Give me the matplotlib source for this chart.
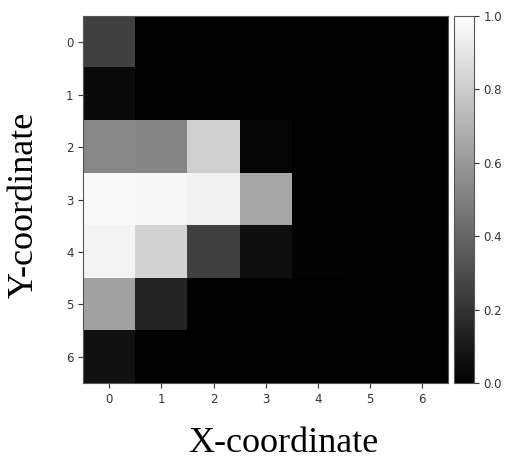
import matplotlib
matplotlib.use("Agg")
from matplotlib import pyplot as plt
import numpy as np

# grid values, row = Y-coordinate, column = X-coordinate
row_0 = [0.25, 0.0, 0.0, 0.0, 0.0, 0.0, 0.0]
row_1 = [0.04, 0.0, 0.0, 0.0, 0.0, 0.0, 0.0]
row_2 = [0.53, 0.52, 0.81, 0.02, 0.0, 0.0, 0.0]
row_3 = [0.97, 0.965, 0.945, 0.65, 0.005, 0.0, 0.0]
row_4 = [0.95, 0.83, 0.25, 0.055, 0.01, 0.0, 0.0]
row_5 = [0.635, 0.14, 0.005, 0.0, 0.0, 0.0, 0.0]
row_6 = [0.07, 0.0, 0.0, 0.0, 0.0, 0.0, 0.0]
x_ticks = [0, 1, 2, 3, 4, 5, 6]
y_ticks = [0, 1, 2, 3, 4, 5, 6]

grid = np.array([row_0, row_1, row_2, row_3, row_4, row_5, row_6])

fig = plt.figure(figsize=(5.23, 4.70), dpi=100)
ax = fig.add_axes([0.159, 0.185, 0.698, 0.781])
cax = fig.add_axes([0.868, 0.185, 0.038, 0.781])

im = ax.imshow(grid, cmap="gray", vmin=0.0, vmax=1.0, aspect="auto",
               interpolation="nearest")
ax.set_xticks(x_ticks)
ax.set_yticks(y_ticks)
ax.tick_params(labelsize=8.5, labelcolor="#333333", color="#333333", length=3.5)
for s in ax.spines.values():
    s.set_color("#555555")

cb = fig.colorbar(im, cax=cax)
cb.set_ticks([0.0, 0.2, 0.4, 0.6, 0.8, 1.0])
cb.ax.tick_params(labelsize=8.5, labelcolor="#333333", color="#333333", length=3.5)
cb.outline.set_edgecolor("#555555")

fig.text(0.542, 0.038, "X-coordinate", ha="center", va="baseline",
         fontsize=26, family="Liberation Serif")
fig.text(0.063, 0.564, "Y-coordinate", ha="center", va="baseline",
         rotation=90, rotation_mode="anchor", fontsize=26,
         family="Liberation Serif")

fig.savefig("out.png", dpi=100)
